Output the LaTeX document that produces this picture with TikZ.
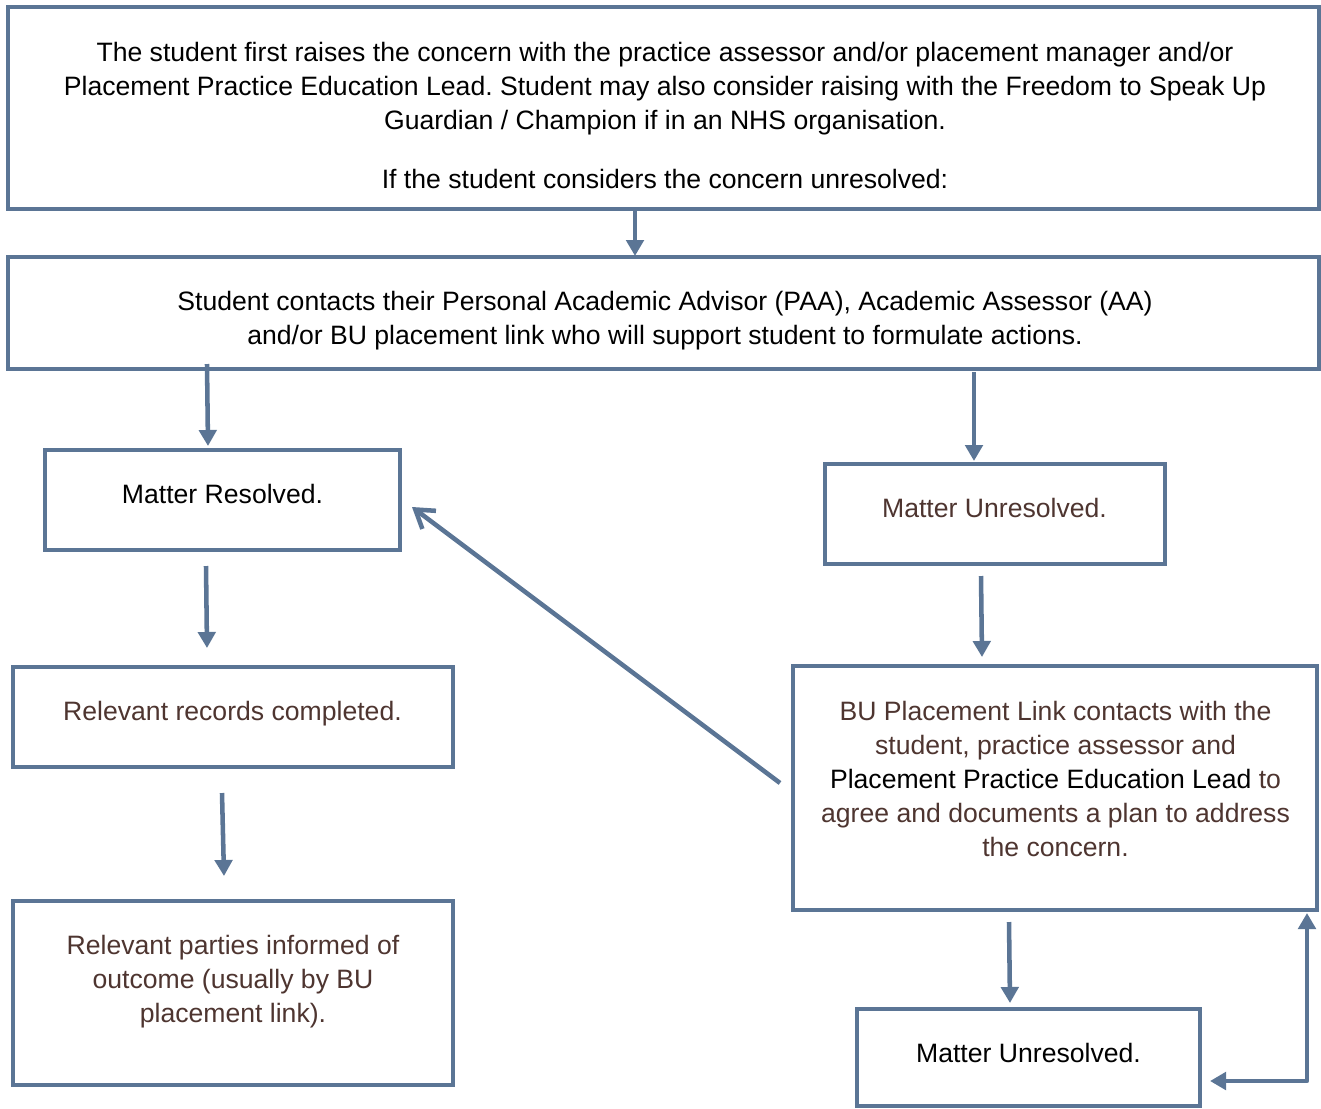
\documentclass[tikz,border=0pt]{standalone}
\usepackage{fontspec}
\setmainfont{Liberation Sans}
\usetikzlibrary{arrows.meta}
\definecolor{bord}{HTML}{5B7595}
\definecolor{brn}{HTML}{4E3530}
\frenchspacing
\begin{document}
\begin{tikzpicture}[x=0.75pt,y=-0.75pt,
  box/.style={draw=bord, line width=3.4pt, inner sep=0pt, fill=white},
  txt/.style={font=\frenchspacing\fontsize{19.95}{25.5}\selectfont, align=center, anchor=north, inner sep=0pt},
  arr/.style={draw=bord, line width=3.4pt, -{Triangle[length=12pt,width=13pt]}},
  barb/.style={draw=bord, line width=3.4pt, -{Straight Barb[length=13pt,width=17pt,line width=3.4pt]}},
  both/.style={draw=bord, line width=3.4pt, {Triangle[length=12pt,width=13pt]}-{Triangle[length=12pt,width=13pt]}}]
\useasboundingbox (0,0) rectangle (1321,1108);

% boxes
\node[box, minimum width={1311*0.75pt}, minimum height={202*0.75pt}] (b1) at (663.5,108) {};
\node[box, minimum width={1311*0.75pt}, minimum height={112*0.75pt}] (b2) at (663.5,313) {};
\node[box, minimum width={355*0.75pt}, minimum height={100*0.75pt}] (b3) at (222.5,500) {};
\node[box, minimum width={340*0.75pt}, minimum height={100*0.75pt}] (b4) at (995,514) {};
\node[box, minimum width={440*0.75pt}, minimum height={100*0.75pt}] (b5) at (233,717) {};
\node[box, minimum width={440*0.75pt}, minimum height={184*0.75pt}] (b6) at (233,993) {};
\node[box, minimum width={524*0.75pt}, minimum height={244*0.75pt}] (b7) at (1055,788) {};
\node[box, minimum width={343*0.75pt}, minimum height={97*0.75pt}] (b8) at (1028.5,1057.5) {};

% texts
\node[txt] (t1) at (665,41.5) {The student first raises the concern with the practice assessor and/or placement manager and/or\\Placement Practice Education Lead. Student may also consider raising with the Freedom to Speak Up\\Guardian / Champion if in an NHS organisation.};
\node[txt] (t1b) at (665,168.5) {If the student considers the concern unresolved:};
\node[txt] (t2) at (665,290.5) {Student contacts their Personal Academic Advisor (PAA), Academic Assessor (AA)\\and/or BU placement link who will support student to formulate actions.};
\node[txt] (t3) at (222.5,483.5) {Matter Resolved.};
\node[txt, text=brn] (t4) at (994.5,497.5) {Matter Unresolved.};
\node[txt, text=brn] (t5) at (232.5,700.5) {Relevant records completed.};
\node[txt, text=brn] (t6) at (233,934.5) {Relevant parties informed of\\outcome (usually by BU\\placement link).};
\node[txt, text=brn] (t7) at (1055.5,700.5) {BU Placement Link contacts with the\\student, practice assessor and\\{\color{black}Placement Practice Education Lead} to\\agree and documents a plan to address\\the concern.};
\node[txt] (t8) at (1028.5,1042.5) {Matter Unresolved.};

% connector end points
\coordinate (a1s) at (635,211);  \coordinate (a1e) at (635,256);
\coordinate (a2s) at (207,364);  \coordinate (a2e) at (208,446);
\coordinate (a3s) at (974,372);  \coordinate (a3e) at (974,461);
\coordinate (a4s) at (206,566);  \coordinate (a4e) at (207,648);
\coordinate (a5s) at (981,576);  \coordinate (a5e) at (982,657);
\coordinate (a6s) at (222,793);  \coordinate (a6e) at (224,876);
\coordinate (a7s) at (780,783);  \coordinate (a7e) at (412,507);
\coordinate (a8s) at (1009,922); \coordinate (a8e) at (1010,1003);
\coordinate (a9s) at (1210,1081); \coordinate (a9c) at (1307,1081); \coordinate (a9e) at (1307,913);

\draw[arr] (a1s) -- (a1e);
\draw[arr] (a2s) -- (a2e);
\draw[arr] (a3s) -- (a3e);
\draw[arr] (a4s) -- (a4e);
\draw[arr] (a5s) -- (a5e);
\draw[arr] (a6s) -- (a6e);
\draw[barb] (a7s) -- (a7e);
\draw[arr] (a8s) -- (a8e);
\draw[both, line join=round] (a9s) -- (a9c) -- (a9e);
\end{tikzpicture}
\end{document}
